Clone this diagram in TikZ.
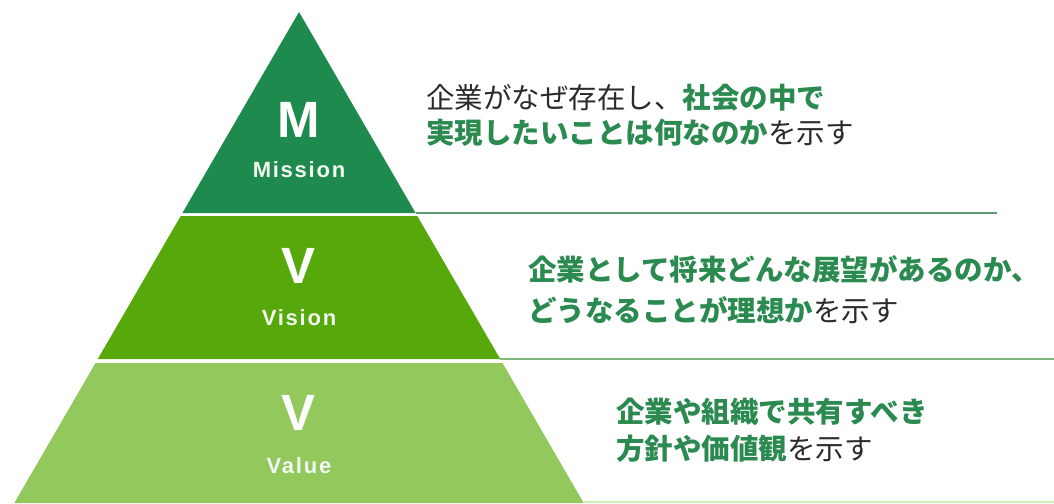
\documentclass[tikz,border=0pt]{standalone}
\usepackage{fontspec}
\setmainfont{Liberation Sans}
\newfontfamily\jp{Noto Sans CJK JP}
\newfontfamily\lab{Liberation Sans}[LetterSpace=8]
\definecolor{dkgreen}{HTML}{1E8A4E}
\definecolor{mdgreen}{HTML}{56A80B}
\definecolor{ltgreen}{HTML}{92C85C}
\definecolor{txtgreen}{HTML}{2A8A4F}
\definecolor{txtblack}{HTML}{2B2B2B}
\definecolor{lineA}{HTML}{5E9E72}
\definecolor{lineB}{HTML}{7DBA80}
\definecolor{lineC}{HTML}{C9F0B5}
\definecolor{offwhite}{HTML}{F2F8F2}
\tikzset{
  bigletter/.style={text=white, font=\bfseries\fontsize{51}{51}\selectfont, anchor=base, inner sep=0pt},
  word/.style={text=offwhite, font=\lab\bfseries\fontsize{22}{22}\selectfont, anchor=base, inner sep=0pt},
  desc/.style={anchor=base west, inner sep=0pt, font=\jp\fontsize{28.5}{28.5}\selectfont, text=txtblack},
  sepline/.style={line width=2pt},
}
\newcommand{\gr}[1]{\textcolor{txtgreen}{\bfseries #1}}
\begin{document}
\begin{tikzpicture}[x=1pt,y=-1pt]
\useasboundingbox (0,0) rectangle (1054,503);
% band corners
\coordinate (apex) at (299,12);
\coordinate (t1l) at (182.4,213);
\coordinate (t1r) at (415.6,213);
\coordinate (m0l) at (180.7,216);
\coordinate (m0r) at (417.3,216);
\coordinate (m1l) at (97.8,359);
\coordinate (m1r) at (500.2,359);
\coordinate (b0l) at (95.5,363);
\coordinate (b0r) at (502.5,363);
\coordinate (b1l) at (14.3,503);
\coordinate (b1r) at (583.7,503);
\coordinate (e1) at (997,213);
\coordinate (e2) at (1054,359);
\coordinate (s3) at (583.7,502);
\coordinate (e3) at (1054,502);
% bands
\fill[dkgreen] (apex) -- (t1r) -- (t1l) -- cycle;
\fill[mdgreen] (m0l) -- (m0r) -- (m1r) -- (m1l) -- cycle;
\fill[ltgreen] (b0l) -- (b0r) -- (b1r) -- (b1l) -- cycle;
% separator lines
\draw[sepline, lineA] (t1r) -- (e1);
\draw[sepline, lineB] (m1r) -- (e2);
\draw[line width=1.5pt, lineC] (s3) -- (e3);
% labels in pyramid
\node[bigletter] (m) at (299,137) {M};
\node[word] (mission) at (299,177) {Mission};
\node[bigletter] (v1) at (299,283) {V};
\node[word] (vision) at (299,325) {Vision};
\node[bigletter] (v2) at (299,430) {V};
\node[word] (value) at (299,473) {Value};
% descriptions
\node[desc] (d1a) at (426,108) {企業がなぜ存在し、\gr{社会の中で}};
\node[desc] (d1b) at (426,143) {\gr{実現したいことは何なのか}を示す};
\node[desc] (d2a) at (528,280) {\gr{企業として将来どんな展望があるのか、}};
\node[desc] (d2b) at (528,321) {\gr{どうなることが理想か}を示す};
\node[desc] (d3a) at (616,422) {\gr{企業や組織で共有すべき}};
\node[desc] (d3b) at (616,459) {\gr{方針や価値観}を示す};
\end{tikzpicture}
\end{document}
